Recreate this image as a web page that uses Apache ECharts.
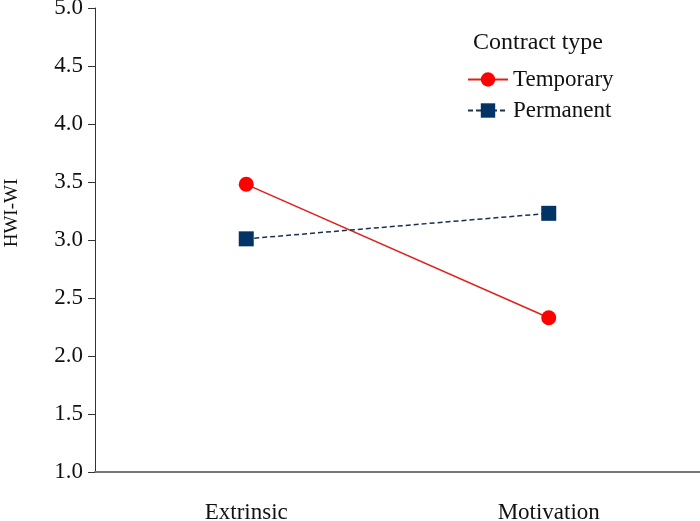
<!DOCTYPE html>
<html><head><meta charset="utf-8">
<script src="https://cdn.jsdelivr.net/npm/echarts@6/dist/echarts.min.js"></script>
<style>html,body{margin:0;padding:0;background:#fff}#c{width:700px;height:521px}</style>
</head><body><div id="c"></div>
<script>
var categories = ['Extrinsic', 'Motivation'];
var temporary = [3.48, 2.33];
var permanent = [3.01, 3.23];
var yTicks = [1.0, 1.5, 2.0, 2.5, 3.0, 3.5, 4.0, 4.5, 5.0];

var font = 'Liberation Serif';
var chart = echarts.init(document.getElementById('c'));
chart.setOption({
  animation: false,
  backgroundColor: '#fff',
  grid: {left: 95, right: 0, top: 8, bottom: 49, containLabel: false, outerBoundsMode: 'none'},
  graphic: [
    {type: 'text', x: 22, y: 213, rotation: Math.PI / 2,
      style: {text: 'HWI-WI', font: '19px ' + font, fill: '#111', textAlign: 'center', textVerticalAlign: 'bottom'}},
    {type: 'text', left: 473, top: 31, style: {text: 'Contract type', font: '24px ' + font, fill: '#111'}}
  ],
  legend: {
    orient: 'vertical', left: 462, top: 63, itemGap: 8, itemWidth: 40, itemHeight: 18,
    textStyle: {fontFamily: font, fontSize: 23, color: '#111'},
    data: ['Temporary', 'Permanent']
  },
  xAxis: {
    type: 'category', data: categories, boundaryGap: true,
    axisLine: {lineStyle: {color: '#777', width: 2}},
    axisTick: {length: 7, lineStyle: {color: '#333', width: 1}},
    axisLabel: {fontFamily: font, fontSize: 23, color: '#111', margin: 29}
  },
  yAxis: {
    type: 'value', min: 1, max: 5, interval: 0.5,
    axisLine: {show: true, lineStyle: {color: '#333', width: 1}},
    axisTick: {show: true, length: 7, lineStyle: {color: '#333'}},
    splitLine: {show: false},
    axisLabel: {fontFamily: font, fontSize: 23, color: '#111', margin: 12,
      formatter: function (v) { return v.toFixed(1); }}
  },
  series: [
    {name: 'Temporary', type: 'line', data: temporary, symbol: 'circle', symbolSize: 15,
      itemStyle: {color: '#ff0000'}, lineStyle: {color: '#e0201a', width: 1.5}},
    {name: 'Permanent', type: 'line', data: permanent, symbol: 'rect', symbolSize: 15,
      itemStyle: {color: '#003366'}, lineStyle: {color: '#1a3050', width: 1.5, type: [5, 3]}}
  ]
});
</script></body></html>
